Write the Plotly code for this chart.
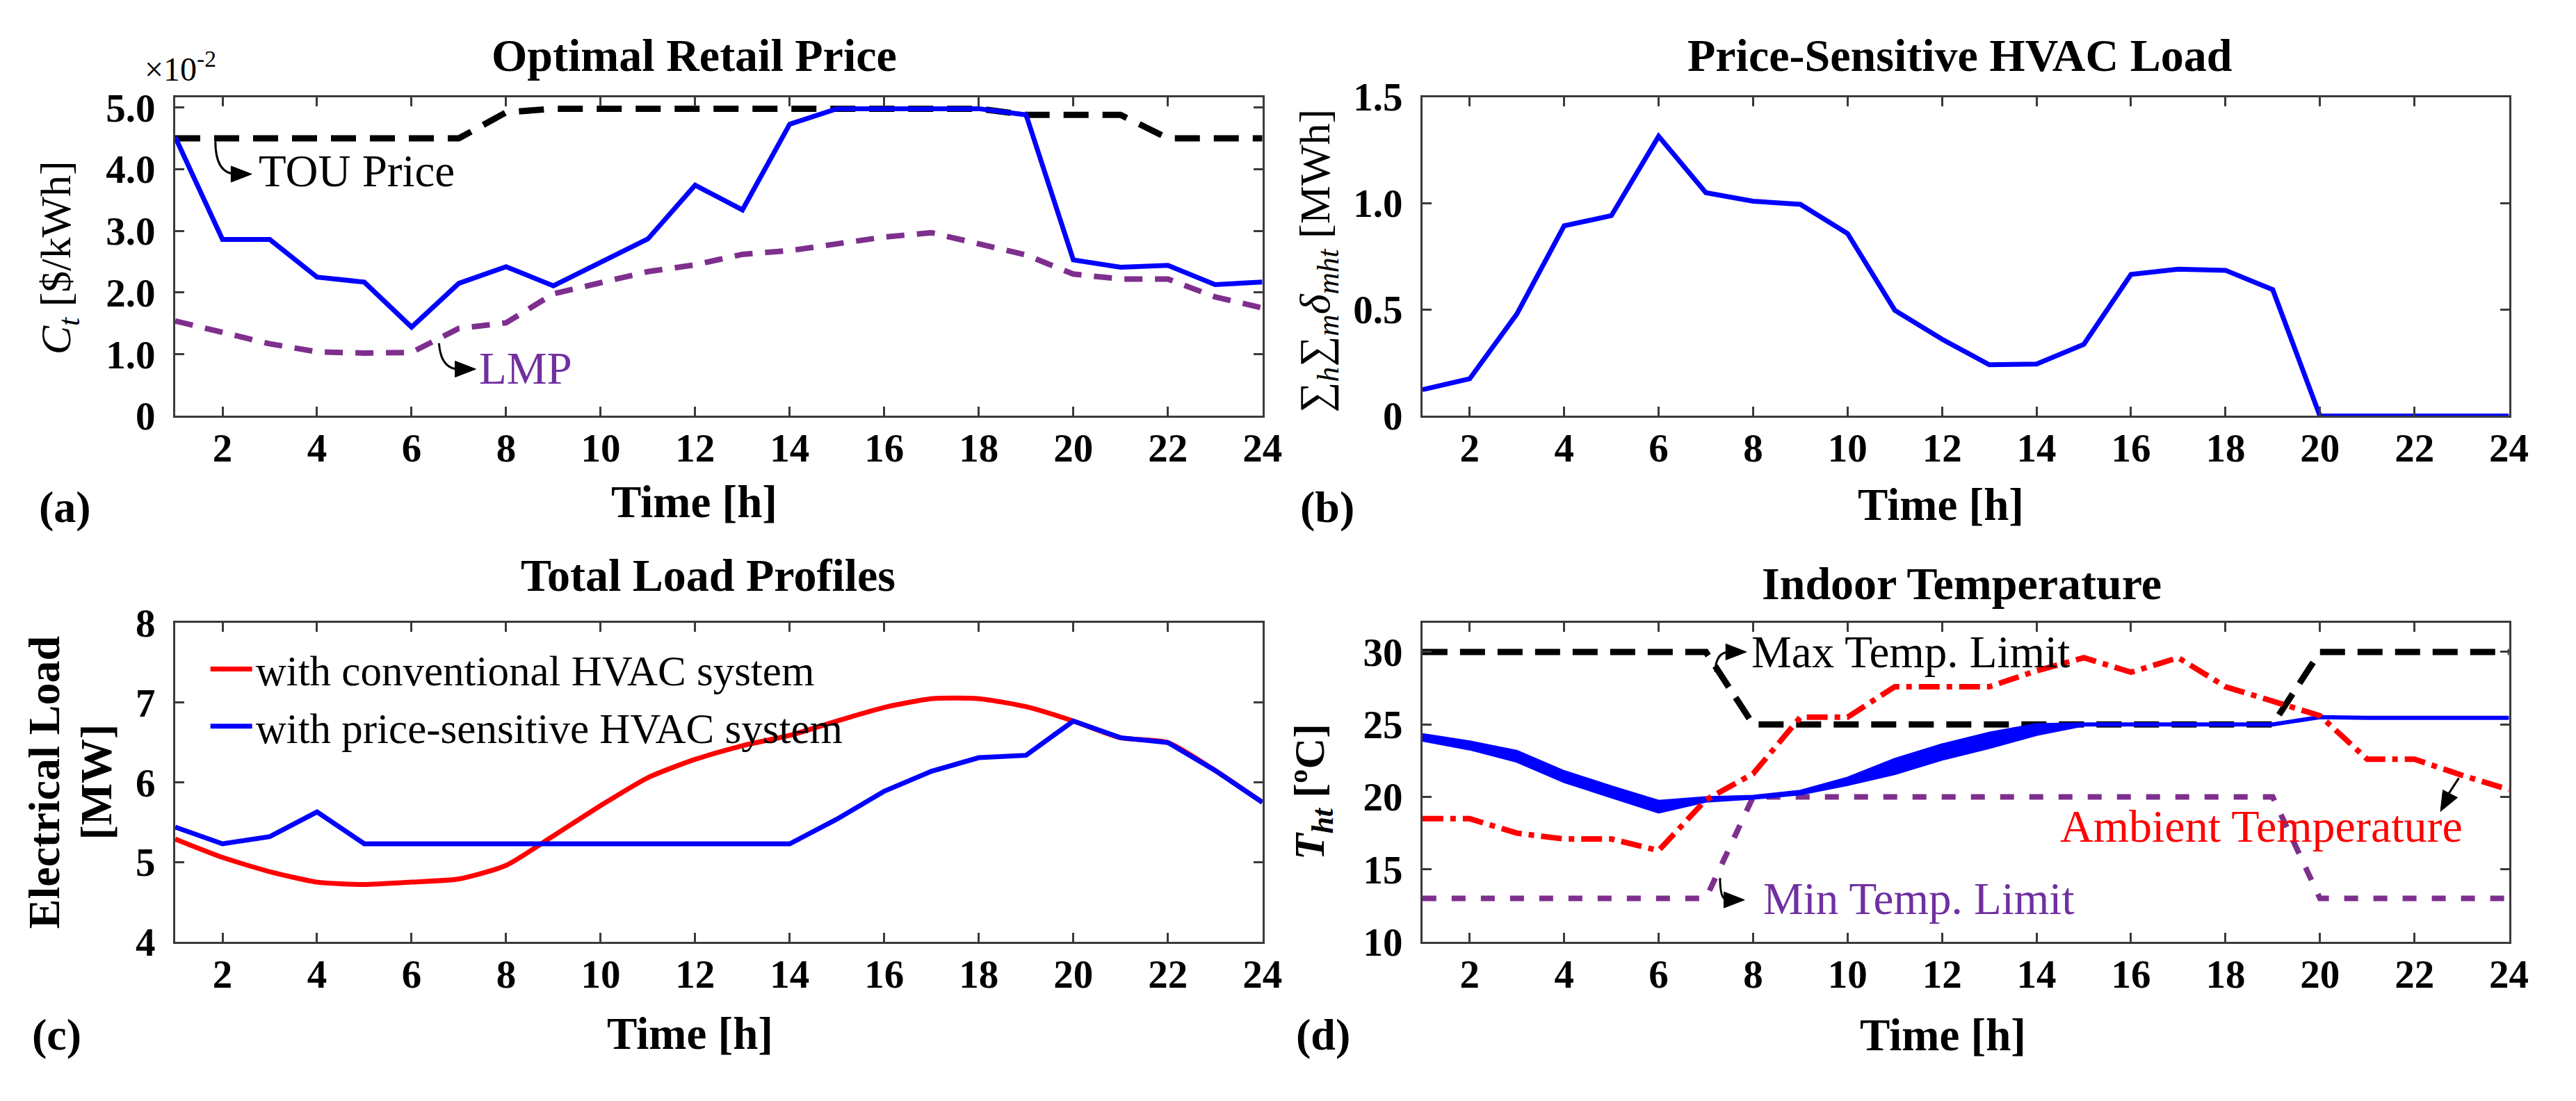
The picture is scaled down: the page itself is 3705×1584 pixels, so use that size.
import math
import plotly.graph_objects as go

W, H = 3705, 1584
FONT = "Liberation Serif"

hours = [1, 2, 3, 4, 5, 6, 7, 8, 9, 10, 11, 12, 13, 14, 15, 16, 17, 18, 19, 20, 21, 22, 23, 24]
hour_ticks = [2, 4, 6, 8, 10, 12, 14, 16, 18, 20, 22, 24]

# (a) Optimal retail price, in units of 1e-2 $/kWh
retail_price = [4.52, 2.86, 2.86, 2.25, 2.17, 1.44, 2.15, 2.42, 2.11, 2.50, 2.87, 3.74,
                3.34, 4.73, 4.98, 4.98, 4.98, 4.98, 4.88, 2.53, 2.41, 2.44, 2.13, 2.17]
tou_price = [4.50, 4.50, 4.50, 4.50, 4.50, 4.50, 4.50, 4.92, 4.98, 4.98, 4.98, 4.98,
             4.98, 4.98, 4.98, 4.98, 4.98, 4.98, 4.88, 4.88, 4.88, 4.50, 4.50, 4.50]
lmp = [1.54, 1.36, 1.17, 1.04, 1.02, 1.03, 1.42, 1.51, 1.98, 2.16, 2.34, 2.45,
       2.62, 2.68, 2.78, 2.90, 2.97, 2.78, 2.61, 2.30, 2.22, 2.22, 1.93, 1.75]
a_yticks = [0, 1, 2, 3, 4, 5]
a_yticktext = ["0", "1.0", "2.0", "3.0", "4.0", "5.0"]

# (b) Price-sensitive HVAC load [MWh]
hvac_load = [0.124, 0.175, 0.48, 0.894, 0.942, 1.315, 1.05, 1.01, 0.995, 0.858, 0.497, 0.361,
             0.241, 0.244, 0.337, 0.666, 0.690, 0.685, 0.594, 0.0, 0.0, 0.0, 0.0, 0.0]
b_yticks = [0, 0.5, 1.0, 1.5]
b_yticktext = ["0", "0.5", "1.0", "1.5"]

# (c) Total load profiles [MW]
load_conventional = [5.29, 5.06, 4.88, 4.75, 4.72, 4.75, 4.79, 4.96, 5.33, 5.71, 6.06, 6.29,
                     6.46, 6.59, 6.77, 6.94, 7.05, 7.05, 6.95, 6.77, 6.56, 6.50, 6.15, 5.75]
load_price_sensitive = [5.44, 5.23, 5.32, 5.63, 5.23, 5.23, 5.23, 5.23, 5.23, 5.23, 5.23, 5.23,
                        5.23, 5.23, 5.54, 5.89, 6.14, 6.31, 6.34, 6.77, 6.56, 6.50, 6.15, 5.75]
c_yticks = [4, 5, 6, 7, 8]

# (d) Indoor temperature [C]
max_limit = [30, 30, 30, 30, 30, 30, 30, 25, 25, 25, 25, 25,
             25, 25, 25, 25, 25, 25, 25, 30, 30, 30, 30, 30]
min_limit = [13, 13, 13, 13, 13, 13, 13, 20, 20, 20, 20, 20,
             20, 20, 20, 20, 20, 20, 20, 13, 13, 13, 13, 13]
ambient = [18.5, 18.5, 17.5, 17.1, 17.1, 16.3, 19.8, 21.6, 25.5, 25.5, 27.6, 27.6,
           27.6, 28.7, 29.6, 28.6, 29.6, 27.6, 26.6, 25.6, 22.6, 22.6, 21.5, 20.5]
indoor_upper = [24.3, 23.8, 23.15, 21.75, 20.7, 19.7, 19.95, 20.05, 20.4, 21.3, 22.6, 23.6,
                24.4, 25.0, 25.05, 25.05, 25.05, 25.05, 25.05, 25.55, 25.5, 25.5, 25.5, 25.5]
indoor_lower = [23.9, 23.3, 22.45, 21.05, 20.0, 18.95, 19.7, 19.9, 20.2, 20.85, 21.6, 22.6,
                23.4, 24.3, 24.95, 24.95, 24.95, 24.95, 24.95, 25.45, 25.4, 25.4, 25.4, 25.4]
d_yticks = [10, 15, 20, 25, 30]

BLUE = "#0000FF"
RED = "#FF0000"
PURPLE_LINE = "#7E2F8E"
PURPLE_TEXT = "#7030A0"
AXC = "#3a3a3a"

# plot-area geometry (pixels)
LEFT_X = (254, 1830)
RIGHT_X = (2062, 3637)
TOP_Y = (113, 591)
BOT_Y = (901, 1379)
X_RANGE = [1, 24]
RANGES = {"y": [0, 5.17], "y2": [0, 1.5], "y3": [4, 8], "y4": [10, 32]}


def px(x):
    return x / W


def py(y):
    return 1 - y / H


fig = go.Figure()

# (a)
fig.add_trace(go.Scatter(x=hours, y=tou_price, mode="lines", xaxis="x", yaxis="y", showlegend=False,
                         line=dict(color="black", width=9, dash="36px,20px")))
fig.add_trace(go.Scatter(x=hours, y=lmp, mode="lines", xaxis="x", yaxis="y", showlegend=False,
                         line=dict(color=PURPLE_LINE, width=8, dash="26px,18px")))
fig.add_trace(go.Scatter(x=hours, y=retail_price, mode="lines", xaxis="x", yaxis="y", showlegend=False,
                         line=dict(color=BLUE, width=7)))
# (b)
fig.add_trace(go.Scatter(x=hours, y=hvac_load, mode="lines", xaxis="x2", yaxis="y2", showlegend=False,
                         line=dict(color=BLUE, width=7)))
# (c)
fig.add_trace(go.Scatter(x=hours, y=load_conventional, mode="lines", xaxis="x3", yaxis="y3",
                         name="with conventional HVAC system",
                         line=dict(color=RED, width=7, shape="spline", smoothing=0.6)))
fig.add_trace(go.Scatter(x=hours, y=load_price_sensitive, mode="lines", xaxis="x3", yaxis="y3",
                         name="with price-sensitive HVAC system",
                         line=dict(color=BLUE, width=7)))
# (d)
fig.add_trace(go.Scatter(x=hours, y=max_limit, mode="lines", xaxis="x4", yaxis="y4", showlegend=False,
                         line=dict(color="black", width=9, dash="36px,18px")))
fig.add_trace(go.Scatter(x=hours, y=min_limit, mode="lines", xaxis="x4", yaxis="y4", showlegend=False,
                         line=dict(color=PURPLE_LINE, width=8, dash="20px,22px")))
fig.add_trace(go.Scatter(x=hours, y=indoor_lower, mode="lines", xaxis="x4", yaxis="y4", showlegend=False,
                         line=dict(color=BLUE, width=4)))
fig.add_trace(go.Scatter(x=hours, y=indoor_upper, mode="lines", xaxis="x4", yaxis="y4", showlegend=False,
                         fill="tonexty", fillcolor=BLUE, line=dict(color=BLUE, width=4)))
fig.add_trace(go.Scatter(x=hours, y=ambient, mode="lines", xaxis="x4", yaxis="y4", showlegend=False,
                         line=dict(color=RED, width=8, dash="30px,10px,8px,10px")))


def axis(domain, rng, tickvals, ticktext, anchor, standoff):
    d = dict(domain=domain, range=rng, tickvals=tickvals, ticks="inside", ticklen=13, tickwidth=3,
             tickcolor=AXC, showline=True, linewidth=3, linecolor=AXC, mirror="ticks",
             showgrid=False, zeroline=False, anchor=anchor, ticklabelstandoff=standoff,
             tickfont=dict(family=FONT, size=57, color="black", weight="bold"))
    if ticktext is not None:
        d["ticktext"] = ticktext
    return d


xl = [px(LEFT_X[0]), px(LEFT_X[1])]
xr = [px(RIGHT_X[0]), px(RIGHT_X[1])]
yt = [py(TOP_Y[1]), py(TOP_Y[0])]
yb = [py(BOT_Y[1]), py(BOT_Y[0])]

fig.update_layout(
    width=W, height=H,
    margin=dict(l=0, r=0, t=0, b=0),
    paper_bgcolor="white", plot_bgcolor="white",
    font=dict(family=FONT, color="black"),
    xaxis=axis(xl, X_RANGE, hour_ticks, None, "y", -6),
    yaxis=axis(yt, RANGES["y"], a_yticks, a_yticktext, "x", 14),
    xaxis2=axis(xr, X_RANGE, hour_ticks, None, "y2", -6),
    yaxis2=axis(yt, RANGES["y2"], b_yticks, b_yticktext, "x2", 14),
    xaxis3=axis(xl, X_RANGE, hour_ticks, None, "y3", -6),
    yaxis3=axis(yb, RANGES["y3"], c_yticks, None, "x3", 14),
    xaxis4=axis(xr, X_RANGE, hour_ticks, None, "y4", -6),
    yaxis4=axis(yb, RANGES["y4"], d_yticks, None, "x4", 14),
    legend=dict(x=px(300), y=py(922), xanchor="left", yanchor="top", bgcolor="rgba(0,0,0,0)",
                traceorder="normal",
                font=dict(family=FONT, size=61, color="black"), itemwidth=60, tracegroupgap=0),
)

ann = []


def text(x, y, s, size, bold=False, color="black", angle=0, xanchor="center", xref="paper", yref="paper"):
    ann.append(dict(x=x, y=y, xref=xref, yref=yref, text=s, showarrow=False, textangle=angle,
                    xanchor=xanchor, yanchor="middle",
                    font=dict(family=FONT, size=size, color=color, weight="bold" if bold else "normal")))


# titles
text(px(1006), py(51), "Optimal Retail Price", 66, True)
text(px(2841), py(50), "Price-Sensitive HVAC Load", 66, True)
text(px(1027), py(829), "Total Load Profiles", 66, True)
text(px(2844), py(842), "Indoor Temperature", 66, True)
# x axis titles
for xx, yy in [(1006, 720), (2814, 724), (1000, 1516), (2817, 1518)]:
    text(px(xx), py(yy), "Time [h]", 65, True)
# panel letters
for xx, yy, s in [(94, 727, "(a)"), (1924, 727, "(b)"), (82, 1518, "(c)"), (1918, 1518, "(d)")]:
    text(px(xx), py(yy), s, 64, True)
# y axis titles
text(px(86), py(354), "<i>C<sub>t</sub></i> [$/kWh]", 62, False, angle=-90)
text(px(1911), py(359), "∑<sub><i>h</i></sub>∑<sub><i>m</i></sub><i>δ<sub>mht</sub></i> [MWh]", 62, False, angle=-90)
text(px(64), py(1140), "Electrical Load", 64, True, angle=-90)
text(px(140), py(1139), "[MW]", 64, True, angle=-90)
text(px(1902), py(1154), "<i>T<sub>ht</sub></i> [ºC]", 62, True, angle=-90)
# exponent
text(px(262), py(68), "×10<sup>-2</sup>", 48)

# in-plot labels
text(2.74, 3.97, "TOU Price", 65, xanchor="left", xref="x", yref="y")
text(7.4, 0.77, "LMP", 65, color=PURPLE_TEXT, xanchor="left", xref="x", yref="y")
text(7.93, 30.0, "Max Temp. Limit", 65, xanchor="left", xref="x4", yref="y4")
text(8.18, 13.0, "Min Temp. Limit", 65, color=PURPLE_TEXT, xanchor="left", xref="x4", yref="y4")
text(18.76, 18.0, "Ambient Temperature", 66, color=RED, xref="x4", yref="y4")


def scale(yref):
    xs = (LEFT_X[1] - LEFT_X[0]) / (X_RANGE[1] - X_RANGE[0])
    top, bot = (TOP_Y if yref in ("y", "y2") else BOT_Y)
    r = RANGES[yref]
    ys = (bot - top) / (r[1] - r[0])
    return xs, ys


def head(xref, yref, tail, tip, length=30, half=12):
    xs, ys = scale(yref)
    dx = (tip[0] - tail[0]) * xs
    dy = (tip[1] - tail[1]) * ys
    n = math.hypot(dx, dy)
    ux, uy = dx / n, dy / n
    bx, by = -ux * length, -uy * length
    p1 = (tip[0] + (bx - uy * half) / xs, tip[1] + (by + ux * half) / ys)
    p2 = (tip[0] + (bx + uy * half) / xs, tip[1] + (by - ux * half) / ys)
    return dict(type="path", xref=xref, yref=yref,
                path=f"M {tip[0]},{tip[1]} L {p1[0]},{p1[1]} L {p2[0]},{p2[1]} Z",
                fillcolor="black", line=dict(color="black", width=1))


# curved arrow bodies: start, control, end, tip
curves = [
    ("x", "y", (1.85, 4.45), (1.85, 3.92), (2.3, 3.92), (2.62, 3.92)),
    ("x", "y", (6.58, 1.18), (6.62, 0.76), (7.0, 0.76), (7.36, 0.76)),
    ("x4", "y4", (7.2, 28.6), (7.2, 30.0), (7.5, 30.0), (7.86, 30.0)),
    ("x4", "y4", (7.3, 14.4), (7.3, 12.9), (7.45, 12.9), (7.82, 12.9)),
]
shapes = []
for xref_, yref_, p0, c, p1, tip in curves:
    shapes.append(dict(type="path", xref=xref_, yref=yref_,
                       path=f"M {p0[0]},{p0[1]} Q {c[0]},{c[1]} {p1[0]},{p1[1]} L {tip[0] - 0.2},{tip[1]}",
                       line=dict(color="black", width=3)))
    shapes.append(head(xref_, yref_, p1, tip))
# straight arrow for ambient temperature
amb_tail, amb_tip = (22.94, 21.3), (22.55, 19.0)
shapes.append(dict(type="line", xref="x4", yref="y4", x0=amb_tail[0], y0=amb_tail[1],
                   x1=22.6, y1=19.6, line=dict(color="black", width=3)))
shapes.append(head("x4", "y4", amb_tail, amb_tip))

fig.update_layout(annotations=ann, shapes=shapes)

fig.write_html("out.html", config={"displayModeBar": False},
               post_script="document.body.style.margin='0';document.body.style.overflow='hidden';")
